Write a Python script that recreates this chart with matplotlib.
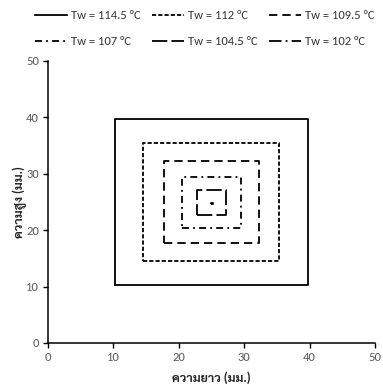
import matplotlib
matplotlib.use('Agg')
import matplotlib.pyplot as plt

plt.rcParams['font.family'] = ['Carlito', 'Sarabun', 'Noto Sans Thai', 'DejaVu Sans']
plt.rcParams['lines.scale_dashes'] = False

# กรอบอุณหภูมิแต่ละระดับ (มม.)
temps = ['114.5', '112', '109.5', '107', '104.5', '102']
x_left = [10.3, 14.6, 17.8, 20.5, 22.8, 25.0]
x_right = [39.7, 35.4, 32.3, 29.5, 27.2, 25.2]
y_bottom = [10.3, 14.5, 17.7, 20.4, 22.7, 24.6]
y_top = [39.7, 35.4, 32.3, 29.4, 27.2, 24.9]

styles = ['-', (0, (3, 1.5)), (0, (6, 3.6)), (0, (5, 3, 1.3, 3)),
          (0, (11, 3)), (0, (9, 3, 1.3, 3))]

fig = plt.figure(figsize=(3.83, 3.88), dpi=100)
ax = fig.add_axes([0.1253, 0.116, 0.8537, 0.727])

handles = []
for i in range(len(temps)):
    xs = [x_left[i], x_right[i], x_right[i], x_left[i], x_left[i]]
    ys = [y_bottom[i], y_bottom[i], y_top[i], y_top[i], y_bottom[i]]
    h, = ax.plot(xs, ys, color='black', linestyle=styles[i], linewidth=1.3,
                 label='Tw = ' + temps[i] + ' °C')
    handles.append(h)

ax.set_xlim(0, 50)
ax.set_ylim(0, 50)
ax.set_xticks(range(0, 51, 10))
ax.set_yticks(range(0, 51, 10))
for s in ['top', 'right']:
    ax.spines[s].set_visible(False)
for s in ['left', 'bottom']:
    ax.spines[s].set_linewidth(1.1)
ax.tick_params(direction='out', length=3.5, width=1, labelsize=9,
               labelcolor='#595959', pad=3)
ax.set_xlabel('ความยาว (มม.)', fontsize=9, fontweight='bold', color='#262626', labelpad=6)
ax.set_ylabel('ความสูง (มม.)', fontsize=9, fontweight='bold', color='#262626', labelpad=-1)

# legend fills by column, so reorder to read row by row
order = [0, 3, 1, 4, 2, 5]
fig.legend([handles[k] for k in order], [handles[k].get_label() for k in order],
           ncol=3, loc='upper center', bbox_to_anchor=(0.534, 1.002), frameon=False,
           fontsize=9, handlelength=2.6, columnspacing=0.9, handletextpad=0.3,
           labelspacing=1.2, labelcolor='#333333')

fig.savefig('out.png', dpi=100)
